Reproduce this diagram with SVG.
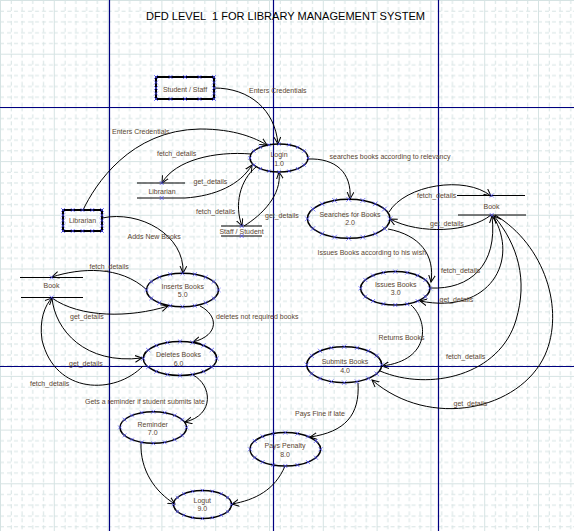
<svg xmlns="http://www.w3.org/2000/svg" xmlns:xlink="http://www.w3.org/1999/xlink" width="574" height="531" viewBox="0 0 574 531">
<style>
.t{font-family:"Liberation Sans",Arial,sans-serif;font-size:7px;fill:#5a4632}
.n{font-family:"Liberation Sans",Arial,sans-serif;font-size:7px;fill:#5a4632;text-anchor:middle}
.c{fill:none;stroke:#000;stroke-width:1;marker-end:url(#a)}
.mk{fill:none;stroke:#4848ff;stroke-width:0.7}
.st{stroke:#000;stroke-width:1.2}
.ent{fill:none;stroke:#000;stroke-width:2}
.pg{stroke:#000080;stroke-width:1.2}
</style>
<defs>
<pattern id="grid" patternUnits="userSpaceOnUse" x="0" y="0" width="53.8" height="53.7">
<g stroke="#d6e3e3" stroke-width="1" fill="none">
<path d="M0.5,0V53.7M0,0.5H53.8"/>
<path stroke-dasharray="4 3" d="M11.26,0V53.7M22.02,0V53.7M32.78,0V53.7M43.54,0V53.7M0,11.24H53.8M0,21.98H53.8M0,32.72H53.8M0,43.46H53.8"/>
</g>
</pattern>
<marker id="a" markerUnits="userSpaceOnUse" markerWidth="9" markerHeight="9" refX="7" refY="4" orient="auto">
<path d="M0,0.6L7,4L0,7.4" fill="none" stroke="#000" stroke-width="1"/>
</marker>
<g id="el">
<ellipse rx="35" ry="16.5" fill="none" stroke="#000" stroke-width="1.5" vector-effect="non-scaling-stroke"/>
<path class="mk" vector-effect="non-scaling-stroke" d="M33,-2l4,4m0,-4l-4,4M28.3,6.25l4,4m0,-4l-4,4M20.5,10.64l4,4m0,-4l-4,4M9.97,13.51l4,4m0,-4l-4,4M-2,14.5l4,4m0,-4l-4,4M-13.97,13.51l4,4m0,-4l-4,4M-24.5,10.64l4,4m0,-4l-4,4M-32.3,6.25l4,4m0,-4l-4,4M-37,-2l4,4m0,-4l-4,4M-32.3,-10.25l4,4m0,-4l-4,4M-24.5,-14.64l4,4m0,-4l-4,4M-13.97,-17.51l4,4m0,-4l-4,4M-2,-18.5l4,4m0,-4l-4,4M9.97,-17.51l4,4m0,-4l-4,4M20.5,-14.64l4,4m0,-4l-4,4M28.3,-10.25l4,4m0,-4l-4,4"/>
</g>
</defs>
<rect width="574" height="531" fill="#fff"/>
<rect width="574" height="531" fill="url(#grid)"/>
<g id="pages" class="pg">
<line x1="109.5" y1="0" x2="109.5" y2="531"/>
<line x1="273.5" y1="0" x2="273.5" y2="531"/>
<line x1="438.5" y1="0" x2="438.5" y2="531"/>
<line x1="0" y1="107.5" x2="574" y2="107.5"/>
<line x1="0" y1="366.5" x2="574" y2="366.5"/>
</g>
<text x="146" y="20" xml:space="preserve" font-family="'Liberation Sans',Arial,sans-serif" font-size="11.5" fill="#000" textLength="279" lengthAdjust="spacingAndGlyphs">DFD LEVEL  1 FOR LIBRARY MANAGEMENT SYSTEM</text>

<g id="connectors">
<path class="c" d="M214,88 C250,88 275,110 278,144"/>
<path class="c" d="M83,210 C95,185 130,130 200,129 C235,129 255,138 267,145"/>
<path class="c" d="M251,154 C215,151 175,160 162,183"/>
<path class="c" d="M185,198 C215,196 240,185 252,165"/>
<path class="c" d="M256,167 C240,180 234,205 242,226"/>
<path class="c" d="M244,226 C262,215 282,195 279,172"/>
<path class="c" d="M308,159 C335,158 352,172 350,199"/>
<path class="c" d="M389,212 C405,185 465,175 491,196"/>
<path class="c" d="M491,215 C470,232 420,235 390,219"/>
<path class="c" d="M388,229 C420,235 435,255 431,282"/>
<path class="c" d="M430,288 C470,290 498,265 492,216"/>
<path class="c" d="M493,216 C520,260 490,315 420,301"/>
<path class="c" d="M411,305 C428,320 432,360 382,366"/>
<path class="c" d="M380,371 C430,392 500,375 516,320 C528,280 518,245 494,216"/>
<path class="c" d="M495,215 C545,245 565,310 545,355 C520,410 430,430 372,380"/>
<path class="c" d="M358,383 C360,415 345,432 310,437"/>
<path class="c" d="M285,466 C275,490 255,500 232,504"/>
<path class="c" d="M141,443 C140,470 155,492 175,504"/>
<path class="c" d="M193,375 C212,385 215,415 185,422"/>
<path class="c" d="M200,306 C218,315 220,335 193,342"/>
<path class="c" d="M102,218 C140,210 185,235 183,273"/>
<path class="c" d="M147,290 C120,265 80,268 52,277"/>
<path class="c" d="M52,298 C80,318 130,318 168,306"/>
<path class="c" d="M52,298 C55,330 85,365 142,358"/>
<path class="c" d="M143,366 C115,395 55,395 42,340 C39,320 45,305 52,298"/>
<text class="t" x="249" y="93">Enters Credentials</text>
<text class="t" x="112" y="133.5">Enters Credentials</text>
<text class="t" x="157" y="155.5">fetch_details</text>
<text class="t" x="193.5" y="184">get_details</text>
<text class="t" x="196" y="214">fetch_details</text>
<text class="t" x="265" y="217.5">get_details</text>
<text class="t" x="329.5" y="159">searches books according to relevancy</text>
<text class="t" x="417" y="198">fetch_details</text>
<text class="t" x="430" y="226">get_details</text>
<text class="t" x="317.5" y="255">Issues Books according to his wish</text>
<text class="t" x="441" y="272.5">fetch_details</text>
<text class="t" x="439.5" y="301.5">get_details</text>
<text class="t" x="378.5" y="340">Returns Books</text>
<text class="t" x="446" y="358.5">fetch_details</text>
<text class="t" x="453.5" y="406">get_details</text>
<text class="t" x="295" y="416">Pays Fine if late</text>
<text class="t" x="85" y="403.5">Gets a reminder if student submits late</text>
<text class="t" x="216" y="319">deletes not required books</text>
<text class="t" x="127.5" y="239">Adds New Books</text>
<text class="t" x="89.5" y="269">fetch_details</text>
<text class="t" x="70" y="319">get_details</text>
<text class="t" x="69" y="365.5">get_details</text>
<text class="t" x="30" y="386">fetch_details</text>
</g>

<g id="student-staff">
<rect class="ent" x="156" y="77" width="58" height="22"/>
<path class="mk" d="M154,75l4,4m0,-4l-4,4M168.5,75l4,4m0,-4l-4,4M183,75l4,4m0,-4l-4,4M197.5,75l4,4m0,-4l-4,4M212,75l4,4m0,-4l-4,4M154,97l4,4m0,-4l-4,4M168.5,97l4,4m0,-4l-4,4M183,97l4,4m0,-4l-4,4M197.5,97l4,4m0,-4l-4,4M212,97l4,4m0,-4l-4,4M154,80.5l4,4m0,-4l-4,4M154,86l4,4m0,-4l-4,4M154,91.5l4,4m0,-4l-4,4M212,80.5l4,4m0,-4l-4,4M212,86l4,4m0,-4l-4,4M212,91.5l4,4m0,-4l-4,4"/>
<text class="n" x="185" y="91.5">Student / Staff</text>
</g>

<g id="librarian">
<rect class="ent" x="63" y="210" width="39" height="21"/>
<path class="mk" d="M61,208l4,4m0,-4l-4,4M70.75,208l4,4m0,-4l-4,4M80.5,208l4,4m0,-4l-4,4M90.25,208l4,4m0,-4l-4,4M100,208l4,4m0,-4l-4,4M61,229l4,4m0,-4l-4,4M70.75,229l4,4m0,-4l-4,4M80.5,229l4,4m0,-4l-4,4M90.25,229l4,4m0,-4l-4,4M100,229l4,4m0,-4l-4,4M61,213.25l4,4m0,-4l-4,4M61,218.5l4,4m0,-4l-4,4M61,223.75l4,4m0,-4l-4,4M100,213.25l4,4m0,-4l-4,4M100,218.5l4,4m0,-4l-4,4M100,223.75l4,4m0,-4l-4,4"/>
<text class="n" x="82.5" y="223">Librarian</text>
</g>

<g id="store-librarian">
<path class="st" d="M137,183H185M137,198H185"/>
<path class="mk" d="M159.7,181l4,4m0,-4l-4,4M159.7,196l4,4m0,-4l-4,4"/>
<text class="n" x="162" y="193.5">Librarian</text>
</g>

<g id="store-staff-student">
<path class="st" d="M221,226H262M221,236H262"/>
<path class="mk" d="M239.7,224l4,4m0,-4l-4,4M239.7,234l4,4m0,-4l-4,4"/>
<text class="n" x="241.5" y="233.5">Staff / Student</text>
</g>

<g id="store-book-left">
<path class="st" d="M20,277.5H83M21,297.5H83"/>
<path class="mk" d="M49.7,275.5l4,4m0,-4l-4,4M49.7,295.5l4,4m0,-4l-4,4"/>
<text class="n" x="51.5" y="288">Book</text>
</g>

<g id="store-book-right">
<path class="st" d="M457,195.5H525M458,215H526"/>
<path class="mk" d="M489.7,193.5l4,4m0,-4l-4,4M489.7,213l4,4m0,-4l-4,4"/>
<text class="n" x="491.5" y="209">Book</text>
</g>

<g id="login">
<use xlink:href="#el" transform="translate(279,158) scale(0.829,0.848)"/>
<text class="n" x="279" y="156.5">Login</text>
<text class="n" x="279" y="166">1.0</text>
</g>
<g id="searches">
<use xlink:href="#el" transform="translate(348.7,218.8) scale(1.18,1.182)"/>
<text class="n" x="350" y="216.8">Searches for Books</text>
<text class="n" x="350" y="225.3">2.0</text>
</g>
<g id="issues">
<use xlink:href="#el" transform="translate(395.3,288.3) scale(0.991,1.012)"/>
<text class="n" x="395.7" y="287">Issues Books</text>
<text class="n" x="395.7" y="295">3.0</text>
</g>
<g id="submits">
<use xlink:href="#el" transform="translate(344.2,364.7) scale(1.071,1.091)"/>
<text class="n" x="345" y="364">Submits Books</text>
<text class="n" x="345" y="372.5">4.0</text>
</g>
<g id="inserts">
<use xlink:href="#el" transform="translate(182.5,290) scale(1.029,1.012)"/>
<text class="n" x="182.7" y="289">Inserts Books</text>
<text class="n" x="182.7" y="297">5.0</text>
</g>
<g id="deletes">
<use xlink:href="#el" transform="translate(180,358.5) scale(1.049,1.03)"/>
<text class="n" x="178.5" y="357">Deletes Books</text>
<text class="n" x="178.5" y="366">6.0</text>
</g>
<g id="reminder">
<use xlink:href="#el" transform="translate(153.3,427.5) scale(0.951,0.958)"/>
<text class="n" x="152.7" y="426.7">Reminder</text>
<text class="n" x="152.7" y="434.7">7.0</text>
</g>
<g id="pays-penalty">
<use xlink:href="#el" transform="translate(285.3,449.3) scale(1.009,1.012)"/>
<text class="n" x="285" y="448">Pays Penalty</text>
<text class="n" x="285" y="456.5">8.0</text>
</g>
<g id="logout">
<use xlink:href="#el" transform="translate(202.5,504.5) scale(0.829,0.848)"/>
<text class="n" x="202.3" y="502.7">Logut</text>
<text class="n" x="202.3" y="510.7">9.0</text>
</g>
</svg>
